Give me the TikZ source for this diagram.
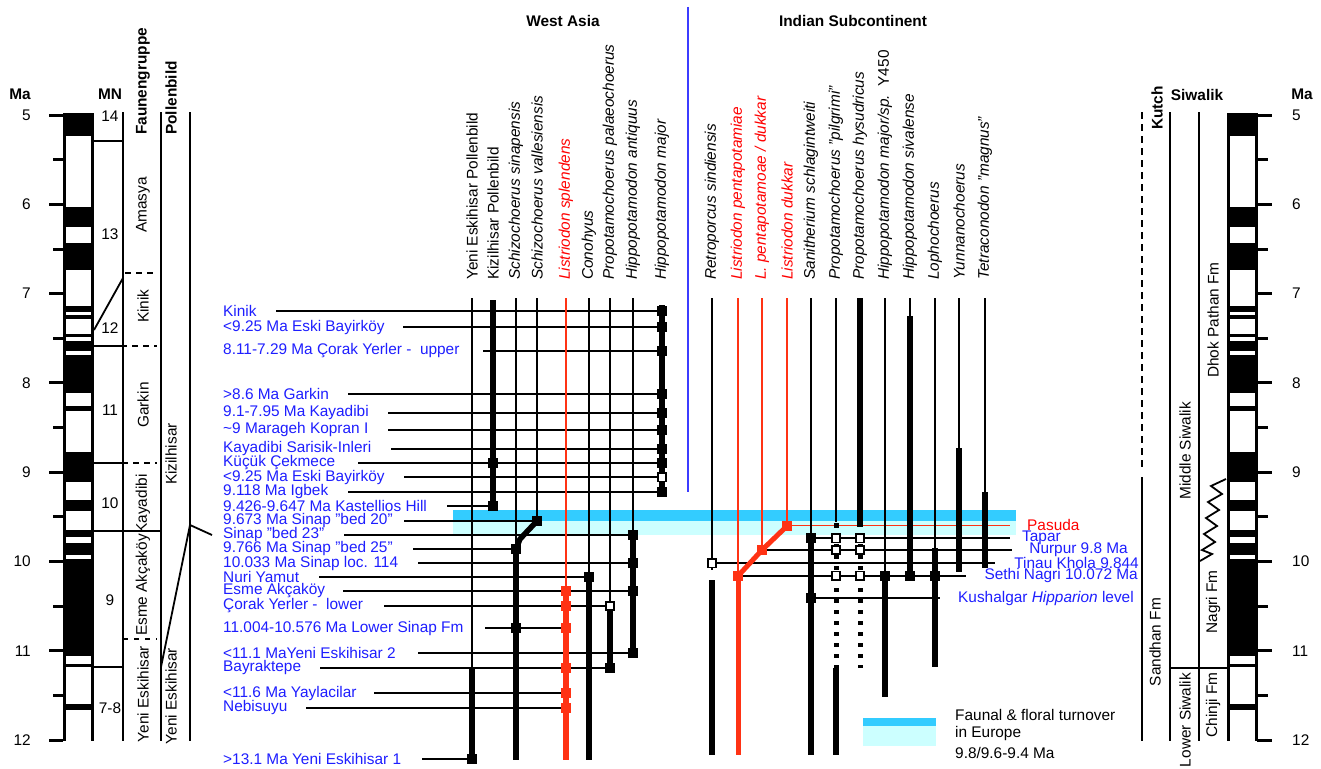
\documentclass[tikz,border=0pt]{standalone}
\usepackage{fontspec}
\setmainfont{Liberation Sans}
\definecolor{siteblue}{RGB}{30,30,255}
\definecolor{txtred}{RGB}{255,0,0}
\definecolor{redline}{RGB}{255,50,20}
\definecolor{cyanD}{RGB}{51,204,255}
\definecolor{cyanL}{RGB}{204,255,255}
\definecolor{divblue}{RGB}{60,60,255}
\newcommand\magcol[2]{%
  \fill[white] (#1,113) rectangle (#2,741);
  \foreach \a/\b in {113/136,207.3/226.7,243.3/270,306/312,315.3/318.7,334/337.3,340.7/351.3,355.3/393.3,406/410.7,451.7/481.7,500/510.7,530/536.7,542.7/555,559.3/656,664/667.3,704/710}
    \fill[black] (#1,\a) rectangle (#2,\b);
  \draw[line width=3pt] (#1,113) -- (#1,741) (#2,113) -- (#2,741);
}
\begin{document}
\begin{tikzpicture}[x=1pt,y=-1pt]
\tikzset{
  lbl/.style={font=\fontsize{15.4}{18}\selectfont, inner sep=0pt},
  blbl/.style={font=\fontsize{15.4}{18}\selectfont\bfseries, inner sep=0pt},
  sitelbl/.style={lbl, text=siteblue, anchor=west},
  sp/.style={lbl, rotate=90, anchor=west},
  slim/.style={line width=1.8pt},
  fat/.style={line width=5.5pt},
  bsq/.style={fill=black, minimum size=10pt, inner sep=0pt, rectangle},
  osq/.style={fill=white, draw=black, line width=1.8pt, minimum size=8.5pt, inner sep=0pt, rectangle},
  rsq/.style={fill=redline, minimum size=10pt, inner sep=0pt, rectangle},
  dotcol/.style={line width=5pt, dash pattern=on 4pt off 7pt},
}
\useasboundingbox (0,0) rectangle (1321,768);
\fill[white] (0,0) rectangle (1321,768);

% turnover bands
\fill[cyanD] (453,510) rectangle (1016,521);
\fill[cyanL] (453,521) rectangle (1016,535);

% ---------------- left scale ----------------
\node[blbl] (maL) at (20,94) {Ma};
\node[blbl] (mn) at (110,94) {MN};
\magcol{64.5}{92}
\foreach \t in {0,...,7} \draw[line width=3pt] (49,{115+\t*89.3}) -- (63,{115+\t*89.3});
\foreach \t in {0,...,6} \draw[line width=3pt] (53,{159.7+\t*89.3}) -- (63,{159.7+\t*89.3});
\foreach \t/\n in {0/5,1/6,2/7,3/8,4/9,5/10,6/11,7/12}
  \node[lbl, anchor=east] (nl\n) at (31,{115+\t*89.3}) {\n};

% MN / Faunengruppe / Pollenbild columns
\draw[slim] (123,112) -- (123,741);
\draw[slim] (161,112) -- (161,741);
\draw[slim] (190,112) -- (190,741);
\node[blbl, rotate=90, anchor=west] (fg) at (143,135) {Faunengruppe};
\node[blbl, rotate=90, anchor=west] (pb) at (171,135) {Pollenbild};
\node[lbl] (mn14) at (110,116) {14};
\node[lbl] (mn13) at (110,234) {13};
\node[lbl] (mn12) at (110,328) {12};
\node[lbl] (mn11) at (110,410) {11};
\node[lbl] (mn10) at (110,503) {10};
\node[lbl] (mn9) at (110,600) {9};
\node[lbl] (mn78) at (110,708) {7-8};
\draw[slim] (93,141) -- (123,141);
\draw[slim, dash pattern=on 6pt off 5pt] (125,272.7) -- (157,272.7);
\draw[slim] (123,278) -- (94,330);
\draw[slim] (93,345.7) -- (127,345.7);
\draw[slim, dash pattern=on 6pt off 5pt] (132,345.7) -- (157,345.7);
\draw[slim] (93,462.7) -- (128,462.7);
\draw[slim, dash pattern=on 6pt off 5pt] (133,462.7) -- (157,462.7);
\draw[slim] (93,531) -- (161,531);
\draw[slim, dash pattern=on 5pt off 6pt] (123,639) -- (157,639);
\draw[slim] (93,667.3) -- (123,667.3);
\node[lbl, rotate=90] (fAm) at (143,205) {Amasya};
\node[lbl, rotate=90] (fKi) at (143,306) {Kinik};
\node[lbl, rotate=90] (fGa) at (143,405) {Garkin};
\node[lbl, rotate=90] (fKa) at (143,504) {Kayadibi};
\node[lbl, rotate=90] (fEs) at (143,585) {Esme Akçaköy};
\node[lbl, rotate=90] (fYe) at (143,694) {Yeni Eskihisar};
\node[lbl, rotate=90] (pKi) at (171,454) {Kizilhisar};
\node[lbl, rotate=90] (pYe) at (171,696) {Yeni Eskihisar};
\draw[slim] (161,667) -- (190,525) -- (212,535);

% ---------------- headers ----------------
\node[blbl] (wa) at (563,21) {West Asia};
\node[blbl] (is) at (853,21) {Indian Subcontinent};
\draw[divblue, line width=1.8pt] (688,7) -- (688,492);

\foreach \x/\txt [count=\i] in {
  472/{Yeni Eskihisar Pollenbild},
  493/{Kizilhisar Pollenbild},
  516/{\textit{Schizochoerus sinapensis}},
  537/{\textit{Schizochoerus vallesiensis}},
  566/{\textcolor{txtred}{\textit{Listriodon splendens}}},
  589/{\textit{Conohyus}},
  610/{\textit{Propotamochoerus palaeochoerus}},
  633/{\textit{Hippopotamodon antiquus}},
  662/{\textit{Hippopotamodon major}},
  712/{\textit{Retroporcus sindiensis}},
  738/{\textcolor{txtred}{\textit{Listriodon pentapotamiae}}},
  762/{\textcolor{txtred}{\textit{L. pentapotamoae / dukkar}}},
  787/{\textcolor{txtred}{\textit{Listriodon dukkar}}},
  811/{\textit{Sanitherium schlagintweiti}},
  836/{\textit{Propotamochoerus "pilgrimi"}},
  860/{\textit{Propotamochoerus hysudricus}},
  885/{\textit{Hippopotamodon major/sp.}\ \ Y450},
  910/{\textit{Hippopotamodon sivalense}},
  935/{\textit{Lophochoerus}},
  959/{\textit{Yunnanochoerus}},
  985/{\textit{Tetraconodon "magnus"}}}
  \node[sp] (spec\i) at (\x,280) {\txt};

% ---------------- West Asia sites ----------------
\foreach \t/\y/\xs/\xe [count=\i] in {
  {Kinik}/310.7/276/662,
  {<9.25 Ma Eski Bayirköy}/327.3/403/662,
  {8.11-7.29 Ma Çorak Yerler -\ \ upper}/351/483/662,
  {>8.6 Ma Garkin}/394.3/348/662,
  {9.1-7.95 Ma Kayadibi}/412.7/388/662,
  {\textasciitilde9 Marageh Kopran I}/430/388/662,
  {Kayadibi Sarisik-Inleri}/449/391/662,
  {Küçük Çekmece}/463/358/662,
  {<9.25 Ma Eski Bayirköy}/477.3/404/662,
  {9.118 Ma Igbek}/491.7/348/662,
  {9.426-9.647 Ma Kastellios Hill}/506/447/493,
  {9.673 Ma Sinap "bed 20"}/520.7/404/537,
  {Sinap "bed 23"}/535/344/633,
  {9.766 Ma Sinap "bed 25"}/549/413/516,
  {10.033 Ma Sinap loc. 114}/563.3/418/633,
  {Nuri Yamut}/577.3/319/589,
  {Esme Akçaköy}/591/343/633,
  {Çorak Yerler -\ \ lower}/606/384/610,
  {11.004-10.576 Ma Lower Sinap Fm}/628.3/485/566,
  {<11.1 MaYeni Eskihisar 2}/653.3/418/633,
  {Bayraktepe}/667.7/320/610,
  {<11.6 Ma Yaylacilar}/693.3/374/566,
  {Nebisuyu}/707.7/306/566,
  {>13.1 Ma Yeni Eskihisar 1}/759.3/422/472}
{
  \node[sitelbl] (site\i) at (223,\y) {\t};
  \draw[slim] (\xs,\y) -- (\xe,\y);
}

% ---------------- Indian site lines ----------------
\draw[redline, line width=1.5pt] (787,525.7) -- (1010,525.7);
\draw[slim] (811,538.3) -- (1010,538.3);
\draw[slim] (765,550) -- (1012,550);
\draw[slim] (712,563.3) -- (995,563.3);
\draw[slim] (738,575.7) -- (966,575.7);
\draw[slim] (811,598.3) -- (940,598.3);
\node[lbl, text=txtred, anchor=west] (pas) at (1027,525) {Pasuda};
\node[lbl, text=siteblue, anchor=west] (tap) at (1022,538) {Tapar};
\node[lbl, text=siteblue, anchor=east] (nur) at (1128,550) {Nurpur 9.8 Ma};
\node[lbl, text=siteblue, anchor=east] (tin) at (1139,563) {Tinau Khola 9.844};
\node[lbl, text=siteblue, anchor=east] (set) at (1138,576) {Sethi Nagri 10.072 Ma};
\node[lbl, text=siteblue, anchor=west] (kus) at (958,599) {Kushalgar \textit{Hipparion} level};

% ---------------- West Asia ranges ----------------
\draw[slim] (472,298) -- (472,668); \draw[fat] (472,668) -- (472,760);
\draw[fat] (493,300) -- (493,506);
\draw[slim] (516,298) -- (516,549); \draw[fat] (516,549) -- (516,760);
\draw[fat, line join=round] (516,549) -- (520,539) -- (537,521);
\draw[slim] (537,298) -- (537,521);
\draw[redline, line width=1.8pt] (566,298) -- (566,586);
\draw[redline, line width=6pt] (566,586) -- (566,760);
\draw[slim] (589,298) -- (589,577); \draw[fat] (589,577) -- (589,760);
\draw[slim] (610,298) -- (610,606); \draw[fat] (610,606) -- (610,668);
\draw[slim] (633,298) -- (633,535); \draw[fat] (633,535) -- (633,653);
\draw[fat] (662,305) -- (662,492);

\node[bsq] (s1) at (472,759.3) {};
\node[bsq] (s2) at (493,463) {};
\node[bsq] (s3) at (493,506) {};
\node[bsq] (s4) at (516,549) {};
\node[bsq] (s5) at (516,628.3) {};
\node[bsq] (s6) at (537,521) {};
\foreach \y [count=\i] in {591,606,628.3,667.7,693.3,707.7} \node[rsq] (ls\i) at (566,\y) {};
\node[bsq] (s7) at (589,577.3) {};
\node[osq] (s8) at (610,606) {};
\node[bsq] (s9) at (610,667.7) {};
\foreach \y [count=\i] in {535,563.3,591,653.3} \node[bsq] (ha\i) at (633,\y) {};
\foreach \y [count=\i] in {310.7,327.3,351,394.3,412.7,430,449,463,491.7} \node[bsq] (hm\i) at (662,\y) {};
\node[osq] (hm10) at (662,477.3) {};

% ---------------- Indian ranges ----------------
\draw[slim] (712,298) -- (712,570); \draw[fat] (712,580) -- (712,755);
\draw[redline, line width=1.8pt] (738,298) -- (738,576);
\draw[redline, line width=5pt] (738,576) -- (738,755);
\draw[redline, line width=1.8pt] (762,298) -- (762,550);
\draw[redline, line width=1.8pt] (787,298) -- (787,526);
\draw[redline, line width=5pt, line join=round] (738,576) -- (762,550) -- (787,526);
\draw[slim] (811,298) -- (811,538); \draw[fat] (811,538) -- (811,755);
\draw[slim] (836,298) -- (836,522); \draw[dotcol] (836,533) -- (836,668); \draw[fat] (836,668) -- (836,755);
\fill (833.5,522.5) rectangle (838.5,528);
\draw[fat] (860,298) -- (860,527); \draw[dotcol] (860,533) -- (860,668);
\draw[slim] (885,298) -- (885,576); \draw[fat] (885,576) -- (885,697);
\draw[slim] (910,298) -- (910,316); \draw[fat] (910,316) -- (910,576);
\draw[slim] (935,298) -- (935,548); \draw[fat] (935,548) -- (935,667);
\draw[slim] (959,298) -- (959,448); \draw[fat] (959,448) -- (959,572);
\draw[slim] (985,298) -- (985,492); \draw[fat] (985,492) -- (985,568);

\node[osq] (r1) at (712,563.3) {};
\node[rsq] (r2) at (738,575.7) {};
\node[rsq] (r3) at (762,550) {};
\node[rsq] (r4) at (787,525.7) {};
\node[bsq] (sa1) at (811,538.3) {};
\node[bsq] (sa2) at (811,598.3) {};
\foreach \y [count=\i] in {538.3,550,575.7} {
  \node[osq] (pp\i) at (836,\y) {};
  \node[osq] (ph\i) at (860,\y) {};
}
\node[bsq] (hy) at (885,575.7) {};
\node[bsq] (hs) at (910,575.7) {};
\node[bsq] (lo) at (935,575.7) {};

% ---------------- legend ----------------
\fill[cyanD] (863,718) rectangle (936,726);
\fill[cyanL] (863,726) rectangle (936,746);
\node[lbl, anchor=west] (lg1) at (955,715) {Faunal \& floral turnover};
\node[lbl, anchor=west] (lg2) at (955,734) {in Europe};
\node[lbl, anchor=west] (lg3) at (955,753) {9.8/9.6-9.4 Ma};

% ---------------- right side ----------------
\node[blbl, rotate=90, anchor=west] (kutch) at (1157,130) {Kutch};
\node[blbl] (siw) at (1197,95) {Siwalik};
\node[blbl] (maR) at (1302,94) {Ma};
\draw[line width=2.2pt, dash pattern=on 7pt off 5pt] (1141.7,112) -- (1141.7,470);
\draw[line width=2.2pt] (1141.7,477) -- (1141.7,741);
\draw[slim] (1170,112) -- (1170,741);
\draw[slim] (1199,112) -- (1199,741);
\draw[slim] (1170,668) -- (1228,668);
\draw[slim, line join=miter] (1226,479) -- (1211,486) -- (1222,494) -- (1208,502) -- (1219,510) -- (1206,518) -- (1217,526) -- (1204,534) -- (1215,542) -- (1202,550) -- (1212,554) -- (1200,561);
\node[lbl, rotate=90] (sand) at (1155,642) {Sandhan Fm};
\node[lbl, rotate=90] (msiw) at (1185,451) {Middle Siwalik};
\node[lbl, rotate=90] (lsiw) at (1185,720) {Lower Siwalik};
\node[lbl, rotate=90] (dhok) at (1213,320) {Dhok Pathan Fm};
\node[lbl, rotate=90] (nagri) at (1213,602) {Nagri Fm};
\node[lbl, rotate=90] (chinji) at (1213,705) {Chinji Fm};
\magcol{1228.5}{1256}
\foreach \t in {0,...,7} \draw[line width=3pt] (1257,{115+\t*89.3}) -- (1272,{115+\t*89.3});
\foreach \t in {0,...,6} \draw[line width=3pt] (1257,{159.7+\t*89.3}) -- (1268,{159.7+\t*89.3});
\foreach \t/\n in {0/5,1/6,2/7,3/8,4/9,5/10,6/11,7/12}
  \node[lbl, anchor=west] (nr\n) at (1292,{115+\t*89.3}) {\n};
\end{tikzpicture}
\end{document}
